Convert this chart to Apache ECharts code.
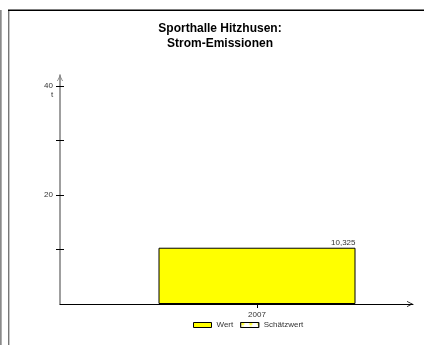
<!DOCTYPE html>
<html>
<head>
<meta charset="utf-8">
<script src="https://cdn.jsdelivr.net/npm/echarts@6/dist/echarts.min.js"></script>
<style>
html,body{margin:0;padding:0;background:#fff;}
#c{width:424px;height:345px;}
</style>
</head>
<body>
<div id="c"></div>
<script>
const titleText = 'Sporthalle Hitzhusen:\nStrom-Emissionen';
const categories = ['2007'];
const wert = [10.325];
const schaetzwert = [null];
const yTickValues = [10, 20, 30, 40];
const yLabelValues = [20, 40];
const yUnit = 't';
const seriesNames = ['Wert', 'Schätzwert'];

const chevron = 'path://M0,10 L5,0 L10,10 L8.6,10 L5,2.8 L1.4,10 Z';
const txt = '#333333';
const font = 'Liberation Sans, Arial, sans-serif';

const chart = echarts.init(document.getElementById('c'), null, {renderer: 'canvas'});
chart.setOption({
  animation: false,
  textStyle: {fontFamily: font},
  title: {
    text: titleText,
    left: 220, top: 21, padding: 0,
    textAlign: 'center',
    textStyle: {fontSize: 12, fontWeight: 'bold', color: '#000', lineHeight: 15, fontFamily: font}
  },
  legend: {
    data: seriesNames,
    left: 193, top: 321, padding: 0,
    itemWidth: 18, itemHeight: 5, itemGap: 7,
    icon: 'rect',
    textStyle: {fontSize: 8, color: txt, fontFamily: font},
    itemStyle: {borderColor: '#000', borderWidth: 1}
  },
  graphic: [
    {type: 'rect', shape: {x: 0, y: 10, width: 1.7, height: 335}, style: {fill: '#8a8a8a'}, silent: true},
    {type: 'rect', shape: {x: 8, y: 10, width: 1.4, height: 335}, style: {fill: '#777777'}, silent: true},
    {type: 'rect', shape: {x: 8, y: 9.6, width: 416, height: 1.4}, style: {fill: '#000000'}, silent: true},
    {type: 'text', x: 52, y: 95, silent: true,
      style: {text: yUnit, fontSize: 8, fill: txt, fontFamily: font, align: 'center', verticalAlign: 'middle'}}
  ],
  grid: [
    {left: 60, top: 86, width: 394, height: 218, outerBoundsMode: 'none', containLabel: false},
    {left: 60, top: 75, right: 11, bottom: 41, outerBoundsMode: 'none', containLabel: false}
  ],
  xAxis: [
    {
      gridIndex: 0, type: 'category', data: categories,
      axisLine: {show: false},
      axisTick: {show: true, alignWithLabel: true, length: 4, lineStyle: {color: '#000'}},
      axisLabel: {fontSize: 8, color: txt, margin: 7, fontFamily: font},
      splitLine: {show: false}
    },
    {
      gridIndex: 1, type: 'value', min: 0, max: 1,
      axisLine: {show: true, lineStyle: {color: '#000', width: 1},
        symbol: ['none', chevron], symbolSize: [7, 6], symbolOffset: [0, -3]},
      axisTick: {show: false}, axisLabel: {show: false}, splitLine: {show: false}
    }
  ],
  yAxis: [
    {
      gridIndex: 0, type: 'value', min: 0, max: 40, interval: 10, position: 'left', offset: 0,
      axisLine: {show: false},
      axisTick: {show: true, length: 4, customValues: yTickValues, lineStyle: {color: '#000'}},
      axisLabel: {fontSize: 8, color: txt, margin: 7, customValues: yLabelValues, fontFamily: font},
      splitLine: {show: false}
    },
    {
      gridIndex: 0, type: 'value', min: 0, max: 40, interval: 10, position: 'left', offset: 0,
      axisLine: {show: false},
      axisTick: {show: true, inside: true, length: 4, customValues: yTickValues, lineStyle: {color: '#000'}},
      axisLabel: {show: false},
      splitLine: {show: false}
    },
    {
      gridIndex: 1, type: 'value', min: 0, max: 1, position: 'left', offset: 0,
      axisLine: {show: true, lineStyle: {color: '#7f7f7f', width: 1.5},
        symbol: ['none', chevron], symbolSize: [7, 6], symbolOffset: [0, -3]},
      axisTick: {show: false}, axisLabel: {show: false}, splitLine: {show: false}
    }
  ],
  series: [
    {
      name: seriesNames[0], type: 'bar', xAxisIndex: 0, yAxisIndex: 0,
      data: wert, barWidth: '50%', barGap: '-100%',
      itemStyle: {color: '#ffff00', borderColor: '#000', borderWidth: 1},
      label: {
        show: true, position: ['100%', -1], align: 'right', verticalAlign: 'bottom',
        fontSize: 8, color: txt, fontFamily: font,
        formatter: p => String(p.value).replace('.', ',')
      }
    },
    {
      name: seriesNames[1], type: 'bar', xAxisIndex: 0, yAxisIndex: 0,
      data: schaetzwert, barWidth: '50%', barGap: '-100%',
      itemStyle: {
        color: '#ffffff', borderColor: '#000', borderWidth: 1,
        decal: {symbol: 'diamond', color: '#ffff00', backgroundColor: '#ffffff',
          dashArrayX: [[4, 4]], dashArrayY: [3, 1], rotation: 0, symbolSize: 1}
      }
    }
  ]
});
</script>
</body>
</html>
